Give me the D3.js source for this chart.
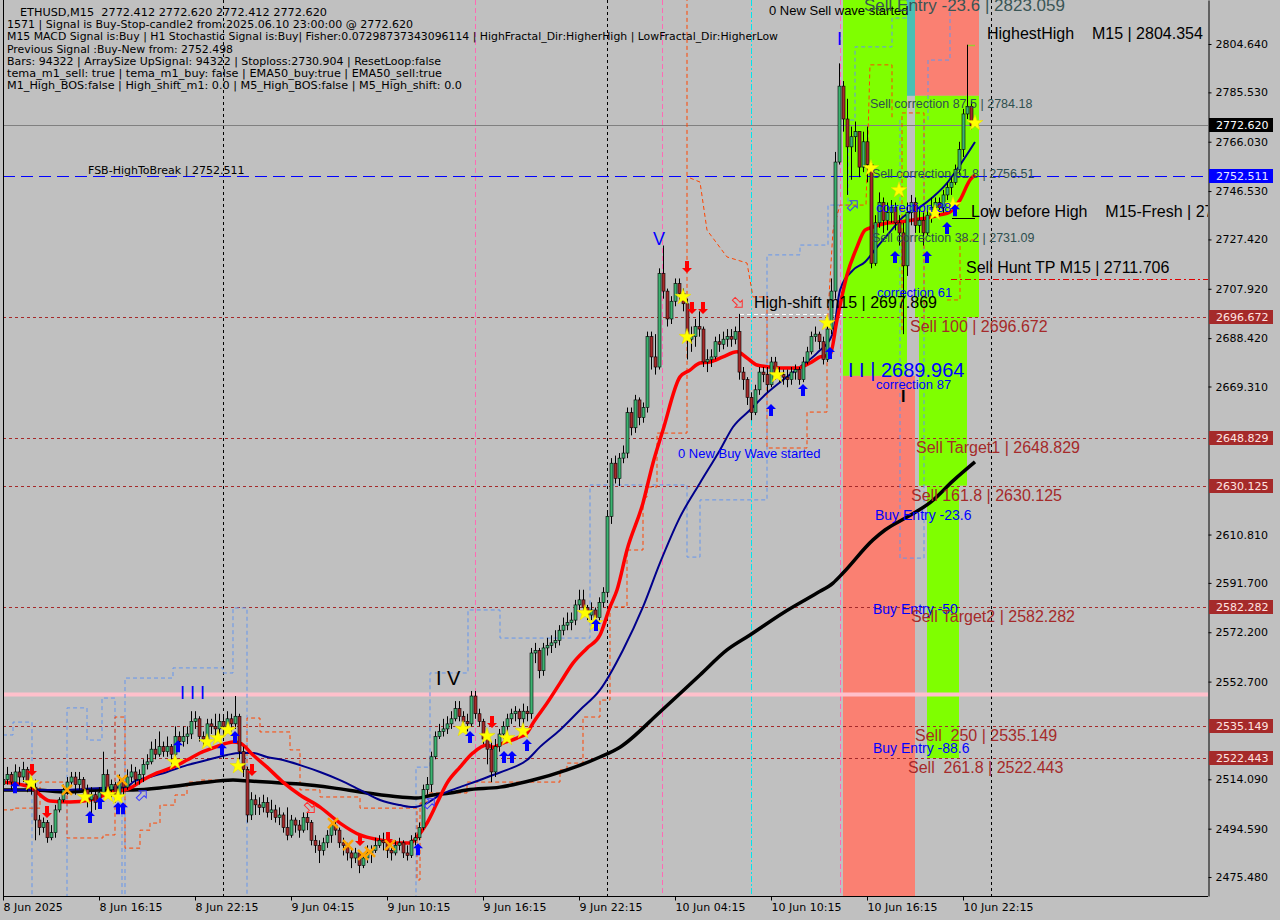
<!DOCTYPE html>
<html><head><meta charset="utf-8">
<script src="https://cdn.jsdelivr.net/npm/d3@7"></script>
<style>body{margin:0;background:#c0c0c0}svg{display:block}text{white-space:pre}</style>
</head><body>
<svg id="c" width="1280" height="920"></svg>
<script>
// ---------------- DATA ----------------
const firstOpen = 2512;
const closes = [2514,2516,2513,2517,2515,2518,2512,2511,2498,2495,2497,2491,2493,2502,2506,2510,2513,2515,2512,2514,
2510,2506,2508,2505,2509,2516,2510,2512,2508,2513,2511,2515,2517,2514,2516,2520,2521,2526,2524,2527,
2525,2527,2524,2531,2529,2531,2532,2537,2538,2531,2530,2536,2535,2534,2537,2535,2538,2536,2539,2525,
2518,2500,2506,2504,2503,2505,2501,2502,2499,2500,2495,2492,2498,2496,2494,2499,2497,2490,2488,2486,
2489,2492,2496,2494,2489,2488,2485,2483,2485,2480,2483,2485,2486,2488,2490,2489,2486,2485,2488,2489,
2485,2484,2490,2491,2495,2510,2512,2523,2531,2533,2534,2536,2538,2542,2539,2537,2536,2547,2540,2537,
2530,2526,2517,2527,2532,2535,2538,2540,2541,2538,2541,2540,2564,2565,2557,2566,2567,2568,2569,2573,
2575,2576,2577,2583,2585,2582,2579,2581,2578,2584,2588,2618,2639,2633,2641,2643,2659,2653,2664,2657,
2661,2689,2681,2677,2714,2707,2696,2703,2710,2706,2702,2688,2689,2693,2692,2679,2680,2681,2687,2686,
2688,2689,2688,2691,2675,2672,2665,2659,2668,2675,2674,2670,2679,2674,2674,2673,2672,2675,2676,2672,
2679,2683,2689,2690,2687,2680,2692,2707,2758,2788,2775,2764,2768,2770,2756,2766,2757,2718,2734,2742,
2735,2738,2740,2734,2730,2717,2738,2742,2733,2735,2730,2737,2740,2742,2740,2745,2748,2750,2755,2763,
2777,2780,2772.412,2772.62];
const highs = [2518,2519,2517,2520,2519,2521,2519,2515,2514,2500,2499,2498,2496,2504,2507,2512,2515,2517,2517,2517,
2515,2512,2511,2510,2511,2525,2518,2514,2513,2516,2515,2518,2520,2519,2518,2522,2524,2529,2530,2533,
2529,2531,2528,2535,2533,2535,2535,2541,2541,2539,2533,2538,2538,2540,2540,2539,2541,2540,2547,2540,
2527,2519,2509,2508,2507,2508,2507,2506,2504,2503,2501,2503,2500,2499,2498,2501,2501,2498,2492,2490,
2491,2494,2498,2498,2495,2491,2489,2487,2487,2486,2485,2488,2488,2491,2492,2493,2492,2488,2490,2491,
2490,2488,2492,2493,2497,2512,2515,2525,2533,2536,2538,2539,2541,2545,2545,2541,2540,2549,2549,2542,
2538,2532,2529,2530,2534,2537,2540,2542,2543,2542,2544,2543,2566,2568,2566,2568,2570,2571,2573,2575,
2578,2580,2580,2585,2589,2589,2583,2584,2582,2586,2590,2620,2641,2642,2643,2646,2661,2661,2666,2665,
2663,2691,2691,2690,2716,2725,2708,2705,2712,2712,2708,2704,2693,2696,2699,2693,2684,2684,2689,2690,
2691,2692,2692,2693,2698,2677,2673,2667,2670,2677,2677,2677,2681,2681,2677,2676,2676,2677,2678,2677,
2681,2685,2691,2693,2691,2689,2694,2712,2762,2797,2790,2783,2772,2774,2770,2770,2772,2758,2737,2746,
2744,2742,2743,2742,2737,2734,2742,2745,2744,2740,2738,2739,2744,2744,2744,2747,2750,2752,2757,2766,
2779,2804.354,2782,2772.62];
const lows = [2510,2512,2510,2512,2512,2513,2509,2508,2490,2492,2493,2489,2490,2491,2501,2505,2508,2511,2508,2510,
2507,2503,2500,2502,2504,2508,2508,2507,2505,2506,2508,2510,2513,2512,2512,2513,2518,2520,2522,2523,
2523,2523,2520,2522,2526,2527,2528,2530,2534,2529,2527,2529,2532,2531,2532,2531,2533,2533,2534,2522,
2515,2497,2498,2500,2500,2501,2499,2498,2497,2496,2493,2490,2491,2493,2491,2493,2494,2488,2485,2481,
2484,2487,2489,2492,2487,2484,2482,2479,2481,2477,2479,2481,2481,2485,2487,2486,2483,2482,2484,2486,
2483,2482,2483,2488,2490,2494,2508,2509,2522,2530,2531,2532,2534,2537,2537,2534,2533,2535,2538,2535,
2528,2520,2513,2515,2525,2530,2533,2536,2537,2535,2536,2537,2538,2560,2554,2555,2563,2564,2566,2567,
2571,2573,2573,2575,2581,2580,2577,2577,2575,2576,2582,2586,2615,2631,2630,2639,2641,2650,2651,2654,
2655,2659,2676,2674,2676,2704,2693,2694,2701,2703,2699,2680,2683,2685,2689,2677,2675,2677,2680,2683,
2684,2685,2685,2686,2672,2668,2662,2656,2658,2666,2671,2667,2669,2672,2671,2670,2669,2670,2672,2670,
2671,2678,2682,2687,2684,2678,2679,2690,2704,2757,2770,2745,2751,2762,2752,2754,2750,2716,2717,2732,
2730,2731,2734,2731,2725,2690,2713,2733,2730,2730,2725,2729,2734,2737,2737,2738,2743,2745,2749,2753,
2760,2775,2771,2772.412];

// moving averages [barIndex, price]
const emaFast = [[0,2513.0],[6.75,2511.0],[11.75,2505.5],[16.75,2505.1],[21.75,2505.9],[26.75,2508.7],[31.75,2510.6],[35,2513.8],[38.5,2516.6],[42.5,2518.9],[46,2521.7],[49.25,2524.5],[52.5,2526.5],[56,2528.4],[57.5,2528.8],[59.25,2528.4],[62.5,2523.7],[66,2518.9],[70,2513.0],[74.25,2507.9],[79.25,2503.1],[84.25,2496.8],[89.25,2492.1],[94.25,2490.1],[99.25,2488.9],[101.75,2488.9],[103.5,2491.3],[106,2496.8],[108.5,2504.7],[111,2512.6],[114.25,2518.9],[117.5,2524.5],[121,2527.6],[122.5,2526.8],[125,2528.4],[128.5,2530.4],[131,2532.4],[132.5,2536.3],[136,2544.2],[139.25,2552.1],[142.5,2560.0],[146,2565.9],[149.25,2571.1],[151.75,2582.2],[153.5,2588.9],[156,2604.7],[160,2623.3],[162.5,2639.1],[165,2652.1],[169.25,2673.1],[171.75,2675.8],[174.25,2678.6],[176.75,2679.0],[180,2681.0],[183.5,2683.0],[186,2680.6],[188.5,2677.8],[191.75,2677.0],[195,2676.6],[198.5,2676.6],[201.75,2678.6],[204.25,2681.0],[206.75,2681.8],[208.5,2695.6],[211,2713.4],[213.5,2724.4],[215.5,2731.1],[217.5,2732.3],[221,2733.9],[224.25,2734.3],[227.5,2735.1],[231,2735.9],[234.25,2737.1],[236.75,2738.3],[239.25,2743.0],[241.75,2750.9],[243,2752.9]];
const emaMid = [[0,2509.9],[16,2509.9],[24.25,2510.7],[31,2511.0],[32.5,2513.0],[36.75,2515.0],[41,2517.0],[46,2519.7],[51,2521.7],[56,2523.7],[59.25,2524.5],[62.5,2524.5],[66,2522.9],[70,2521.7],[74.25,2519.7],[79.25,2517.0],[84.25,2513.8],[89.25,2509.9],[94.25,2505.9],[99.25,2503.9],[102.5,2503.1],[106,2504.7],[109.25,2507.9],[114.25,2511.0],[119.25,2513.8],[122.5,2515.8],[126,2517.8],[131,2521.7],[134.25,2526.9],[139.25,2533.6],[144.25,2541.5],[149.25,2549.4],[155,2565.2],[160,2582.2],[164.25,2599.6],[169.25,2617.7],[174.25,2631.2],[179.25,2644.2],[182.5,2653.3],[186.75,2660.0],[191,2666.7],[195,2671.9],[199.25,2677.0],[203.5,2682.5],[207.5,2690.4],[209.25,2707.4],[212.5,2715.3],[215.5,2718.5],[218.5,2724.4],[221.75,2730.4],[225,2736.3],[229.25,2740.2],[232.5,2744.2],[236,2749.7],[239.25,2756.8],[243,2765.9]];
const emaSlow = [[0,2509.9],[7.5,2509.9],[16,2509.1],[24.25,2509.9],[32.5,2509.9],[41,2511.0],[49.25,2512.6],[57.5,2513.8],[61.75,2513.4],[66,2513.0],[74.25,2512.2],[82.5,2510.7],[91,2508.7],[99.25,2507.1],[103.5,2506.7],[107.5,2507.9],[111.75,2508.7],[116,2509.9],[124.25,2511.0],[132.5,2513.8],[141,2517.8],[149.25,2522.9],[154.25,2526.8],[164.25,2540.7],[174.25,2555.3],[181,2565.2],[186.75,2571.1],[195,2579.8],[203.5,2587.7],[207.5,2591.6],[210,2595.6],[217.5,2608.7],[220.5,2612.6],[226,2617.7],[232,2623.7],[237.5,2632.0],[243,2639.5]];

// channel step lines [barIndex, price]
const bandBlue = [[0,2531.6],[2.5,2531.6],[2.5,2536.7],[7.25,2536.7],[7.25,2466],[16,2466],[16,2542.3],[21,2542.3],[21,2529.6],[24.75,2529.6],[24.75,2546.2],[28,2546.2],[28,2504.7],[29.75,2504.7],[29.75,2466],[30.5,2466],[30.5,2554.1],[42.5,2554.1],[42.5,2558.1],[55,2558.1],[55,2556.1],[57.5,2556.1],[57.5,2581.8],[61,2581.8],[61,2466],[103.25,2466],[103.25,2518.9],[106.75,2518.9],[106.75,2556.1],[116.25,2556.1],[116.25,2581.0],[124.25,2581.0],[124.25,2569.9],[146.75,2569.9],[146.75,2630.4],[171,2630.4],[171,2601.9],[174.25,2601.9],[174.25,2624.5],[191,2624.5],[191,2721.3],[199.25,2721.3],[199.25,2725.2],[206.25,2725.2],[206.25,2741.0],[211.25,2741.0],[211.25,2774.6],[213,2774.6],[213,2803.5],[222.25,2803.5],[222.25,2814.9],[226,2814.9],[226,2825]];
const bandBlue2 = [[224.25,2774.6],[224.25,2601.5],[230.25,2601.5],[230.25,2774.6]];
const bandBlue3 = [[231.25,2774.6],[231.25,2798.3],[236.75,2798.3],[236.75,2825]];
const bandRed = [[0,2502.0],[2.5,2502.0],[2.5,2502.7],[9.25,2502.7],[9.25,2513.0],[16,2513.0],[16,2490.9],[25,2490.9],[25,2492.1],[28,2492.1],[28,2538.7],[30.5,2538.7],[30.5,2486.9],[34.25,2486.9],[34.25,2494.0],[36.75,2494.0],[36.75,2496.8],[39.25,2496.8],[39.25,2503.9],[43,2503.9],[43,2507.9],[46,2507.9],[46,2513.0],[49.25,2513.0],[49.25,2513.8],[61,2513.8],[61,2538.3],[64.25,2538.3],[64.25,2532.8],[71.75,2532.8],[71.75,2525.7],[74.25,2525.7],[74.25,2509.9],[79.25,2509.9],[79.25,2507.1],[89.25,2507.1],[89.25,2502.7],[103.5,2502.7],[103.5,2474.3],[104.25,2474.3],[104.25,2504.7],[106,2504.7],[106,2508.7],[116,2508.7],[116,2513.0],[139.25,2513.0],[139.25,2517.8],[141,2517.8],[141,2520.5],[145,2520.5],[145,2538.7],[149.25,2538.7],[149.25,2545.4],[151.75,2545.4],[151.75,2582.2],[156,2582.2],[156,2604.7],[160,2604.7],[160,2625.6],[161,2625.6],[161,2629.6],[163.5,2629.6],[163.5,2650.9],[171,2650.9],[171,2825]];
const bandRed2 = [[171.75,2751.7],[174.25,2750.1],[176,2731.1],[181,2720.5],[186,2718.1],[187.5,2704.7],[191,2704.7],[191,2645.0],[201,2645.0],[201,2659.2],[206,2659.2],[206,2691.6],[207.5,2731.1],[209.25,2741.0],[215.75,2741.0],[216.75,2796.4],[222.25,2796.4],[222.25,2774.6]];
const bandRed3 = [[224.75,2691.6],[224.75,2777.4],[230.25,2777.4],[230.25,2691.6]];
const bandRed4 = [[236,2703.5],[239.25,2703.5],[239.25,2727.2],[243,2727.2]];

// zones
const zoneX0 = [210,226,228,228,210,229,231];
const zoneX1 = [226,228,244,244,228,241,239];
const zoneTop = [2825,2825,2825,2784.18,2673.5,2696.672,2630.125];
const zoneBot = [2673.5,2784.18,2784.18,2696.672,2460,2630.125,2522.443];
const zoneKind = ["g","t","s","g","s","g","g"];

// levels
const levelsBrown = [2696.672,2648.829,2630.125,2582.282,2535.149,2522.443];
const levelBlue = 2752.511, levelBid = 2772.620, levelPink = 2547.8;
const highShift = 2697.869, huntTP = 2711.706, lowBeforeHigh = 2735.9, highestHigh = 2804.354;

// vertical markers (bar index)
const daySeps = [55,151,247];
const pinkV = [118,164.75,209.25];
const cyanV = [187];

// markers
const starIdx = [7,20.5,26.25,28.75,43,51,53.75,56.25,58.75,115,121,126,130,145.5,148,170,171,193.5,206,217,224,233,237.5,243];
const starPrice = [2512.6,2507.1,2507.9,2507.1,2520.9,2528.8,2530.4,2533.6,2519.3,2534.0,2531.2,2530.4,2533.2,2579.8,2575.8,2704.7,2688.9,2673.8,2694.4,2755.6,2746.9,2737.9,2741.0,2773.4];
const upIdx = [3,21.75,24.25,28.75,30,43.75,54.75,58,103.75,116.75,125.25,127.25,131,148.25,192,200,206.75,223,231,236,238];
const upPrice = [2511.0,2499.2,2504.7,2502.7,2502.7,2527.2,2526.0,2530.8,2486.5,2530.8,2522.9,2522.9,2527.6,2575.1,2660.0,2667.9,2682.5,2720.5,2720.5,2731.9,2739.0];
const downIdx = [7.25,11,62.25,89.25,96.25,122.25,171,172.25,175];
const downPrice = [2517.8,2501.2,2517.8,2490.1,2490.9,2536.7,2716.5,2700.3,2700.3];
const crossIdx = [16,29.75,82.5,86.25,90,91.75,96.75];
const crossPrice = [2509.9,2513.8,2496.8,2488.1,2484.2,2485.4,2488.1];
const hollowUpIdx = [34.75,106.75,212.5];
const hollowUpPrice = [2507.9,2504.7,2741.0];
const hollowDownIdx = [76.75,183.75];
const hollowDownPrice = [2502.7,2702.3];

// axes
const priceTicks = [2804.64,2785.53,2766.03,2746.53,2727.42,2707.92,2688.42,2669.31,2610.81,2591.70,2572.20,2552.70,2514.09,2494.59,2475.48];
const timeTickIdx = [0,24,48,72,96,120,144,168,192,216,240];
const timeLabels = ["8 Jun 2025","8 Jun 16:15","8 Jun 22:15","9 Jun 04:15","9 Jun 10:15","9 Jun 16:15","9 Jun 22:15","10 Jun 04:15","10 Jun 10:15","10 Jun 16:15","10 Jun 22:15"];
const priceTags = [2772.620,2752.511,2696.672,2648.829,2630.125,2582.282,2535.149,2522.443];
const priceTagKind = ["bid","blue","br","br","br","br","br","br"];

const infoLines = ["ETHUSD,M15  2772.412 2772.620 2772.412 2772.620",
"1571 | Signal is Buy-Stop-candle2 from:2025.06.10 23:00:00 @ 2772.620",
"M15 MACD Signal is:Buy | H1 Stochastic Signal is:Buy| Fisher:0.07298737343096114 | HighFractal_Dir:HigherHigh | LowFractal_Dir:HigherLow",
"Previous Signal :Buy-New from: 2752.498",
"Bars: 94322 | ArraySize UpSignal: 94322 | Stoploss:2730.904 | ResetLoop:false",
"tema_m1_sell: true | tema_m1_buy: false | EMA50_buy:true | EMA50_sell:true",
"M1_High_BOS:false | High_shift_m1: 0.0 | M5_High_BOS:false | M5_High_shift: 0.0"];

// ---------------- LAYOUT ----------------
const L=3,R=1208,T=0,B=896;
const svg = d3.select("#c");
const x = d3.scaleLinear().domain([0,301.25]).range([L,R]);
const y = d3.scaleLinear().domain([2467.98,2822.03]).range([B,T]);
const AR = "Liberation Sans, Arial, sans-serif";
const TH = "DejaVu Sans, Verdana, sans-serif";

svg.append("rect").attr("width",1280).attr("height",920).attr("fill","#c0c0c0");
svg.append("defs").append("clipPath").attr("id","plot").append("rect")
  .attr("x",L).attr("y",T).attr("width",R-L).attr("height",B-T);
const g = svg.append("g").attr("clip-path","url(#plot)");

// zones
const zc = {g:"#7fff00",t:"#48c0b4",s:"#fa8072"};
g.selectAll("rect.zone").data(zoneX0).join("rect").attr("class","zone")
  .attr("x",(d,k)=>x(d)).attr("width",(d,k)=>x(zoneX1[k])-x(d))
  .attr("y",(d,k)=>y(zoneTop[k])).attr("height",(d,k)=>y(zoneBot[k])-y(zoneTop[k]))
  .attr("fill",(d,k)=>zc[zoneKind[k]]);

// vertical lines
const vline=(arr,color,dash,w)=>g.append("g").selectAll("line").data(arr).join("line")
  .attr("x1",d=>Math.round(x(d))+0.5).attr("x2",d=>Math.round(x(d))+0.5).attr("y1",T).attr("y2",B)
  .attr("stroke",color).attr("stroke-width",w||1).attr("stroke-dasharray",dash);
vline(daySeps,"#000","3,3");
vline(pinkV,"#ff69b4","5,3");
vline(cyanV,"#00e5ee","6,2,2,2");

// horizontal levels
const hline=(p,color,dash,w,i0,i1)=>g.append("line")
  .attr("x1",i0==null?L:x(i0)).attr("x2",i1==null?R:x(i1))
  .attr("y1",Math.round(y(p))+0.5).attr("y2",Math.round(y(p))+0.5)
  .attr("stroke",color).attr("stroke-width",w).attr("stroke-dasharray",dash);
levelsBrown.forEach(p=>hline(p,"#a52a2a","3,3",1));
hline(levelPink,"#ffc0cb",null,4);
hline(levelBid,"#808080",null,1);
hline(levelBlue,"#0000ff","12,6",1.2);
hline(highShift,"#ffffff","4,3",1,184.25,210);
hline(huntTP,"#e00000","6,3,2,3",1,237,null);
hline(lowBeforeHigh,"#000000",null,1,237.25,243);
hline(highestHigh,"#9acd32",null,1.5,241.25,243);

// channel lines
const ln = d3.line().x(d=>x(d[0])).y(d=>y(d[1]));
[bandBlue,bandBlue2,bandBlue3].forEach(a=>g.append("path").attr("d",ln(a)).attr("fill","none")
  .attr("stroke","#6495ed").attr("stroke-width",1).attr("stroke-dasharray","4,3"));
[bandRed,bandRed2,bandRed3,bandRed4].forEach(a=>g.append("path").attr("d",ln(a)).attr("fill","none")
  .attr("stroke","#ff4500").attr("stroke-width",1).attr("stroke-dasharray","4,3"));

// moving averages
const lc = d3.line().x(d=>x(d[0])).y(d=>y(d[1])).curve(d3.curveMonotoneX);
g.append("path").attr("d",lc(emaSlow)).attr("fill","none").attr("stroke","#000").attr("stroke-width",3.5);
g.append("path").attr("d",lc(emaMid)).attr("fill","none").attr("stroke","#00008b").attr("stroke-width",2);
g.append("path").attr("d",lc(emaFast)).attr("fill","none").attr("stroke","#ff0000").attr("stroke-width",3.5);

// candles
const opens = closes.map((c,k)=>k===0?firstOpen:closes[k-1]);
const cg = g.append("g");
closes.forEach((c,k)=>{
  const o=opens[k], cx=Math.round(x(k));
  const hi=Math.max(highs[k],o,c), lo=Math.min(lows[k],o,c);
  cg.append("line").attr("x1",cx+0.5).attr("x2",cx+0.5).attr("y1",y(hi)).attr("y2",y(lo))
    .attr("stroke","#000").attr("stroke-width",1);
  const yt=y(Math.max(o,c)), yb=y(Math.min(o,c));
  cg.append("rect").attr("x",cx-1).attr("width",3).attr("y",yt).attr("height",Math.max(1,yb-yt))
    .attr("fill",c>=o?"#3cb371":"#a52a2a").attr("stroke","#000").attr("stroke-width",0.6);
});

// markers
const star=d3.symbol(d3.symbolStar).size(80)();
g.append("g").selectAll("path").data(starIdx).join("path").attr("d",star)
  .attr("transform",(d,k)=>`translate(${x(d)},${y(starPrice[k])})`).attr("fill","#ffff00").attr("stroke","#e6d800").attr("stroke-width",0.5);
const upArrow="M0,-6L5,-1L2,-1L2,6L-2,6L-2,-1L-5,-1Z";
g.append("g").selectAll("path").data(upIdx).join("path").attr("d",upArrow)
  .attr("transform",(d,k)=>`translate(${x(d)},${y(upPrice[k])})`).attr("fill","#0000ff");
g.append("g").selectAll("path").data(downIdx).join("path").attr("d",upArrow)
  .attr("transform",(d,k)=>`translate(${x(d)},${y(downPrice[k])}) rotate(180)`).attr("fill","#ff0000");
g.append("g").selectAll("path").data(crossIdx).join("path").attr("d","M-5,-5L5,5M5,-5L-5,5")
  .attr("transform",(d,k)=>`translate(${x(d)},${y(crossPrice[k])})`).attr("stroke","#ffa500").attr("stroke-width",2.5);
g.append("g").selectAll("path").data(hollowUpIdx).join("path").attr("d",upArrow)
  .attr("transform",(d,k)=>`translate(${x(d)},${y(hollowUpPrice[k])}) rotate(45)`).attr("fill","none").attr("stroke","#3b3bff").attr("stroke-width",1);
g.append("g").selectAll("path").data(hollowDownIdx).join("path").attr("d",upArrow)
  .attr("transform",(d,k)=>`translate(${x(d)},${y(hollowDownPrice[k])}) rotate(135)`).attr("fill","none").attr("stroke","#ff3030").attr("stroke-width",1);

// annotation texts (layout)
const notes = [
 ["FSB-HighToBreak | 2752.511",88,174,11,"#000",TH,"normal"],
 ["0 New Sell wave started",769,15,13,"#000",AR,"normal"],
 ["Sell Entry -23.6 | 2823.059",864,11,17,"#3a5555",AR,"normal"],
 ["HighestHigh    M15 | 2804.354",987,39,16,"#000",AR,"normal"],
 ["Sell correction 87.5 | 2784.18",870,108,12.5,"#2f4f4f",AR,"normal"],
 ["Sell correction 61.8 | 2756.51",872,178,12.5,"#2f4f4f",AR,"normal"],
 ["correction 38",876,212,13,"#0000ff",AR,"normal"],
 ["Low before High    M15-Fresh | 2735.915",971,217,16,"#000",AR,"normal"],
 ["Sell correction 38.2 | 2731.09",872,242,12.5,"#2f4f4f",AR,"normal"],
 ["Sell Hunt TP M15 | 2711.706",966,273,16,"#000",AR,"normal"],
 ["correction 61",877,297,13,"#0000ff",AR,"normal"],
 ["High-shift m15 | 2697.869",754,308,16,"#000",AR,"normal"],
 ["Sell 100 | 2696.672",910,332,16,"#a52a2a",AR,"normal"],
 ["I I | 2689.964",848,377,20,"#0000ff",AR,"normal"],
 ["correction 87",876,389,13,"#0000ff",AR,"normal"],
 ["I",901,402,16,"#000",AR,"bold"],
 ["Sell Target1 | 2648.829",916,453,16,"#a52a2a",AR,"normal"],
 ["0 New Buy Wave started",678,458,13,"#0000ff",AR,"normal"],
 ["Sell 161.8 | 2630.125",911,501,16,"#a52a2a",AR,"normal"],
 ["Buy Entry -23.6",875,520,14,"#0000ff",AR,"normal"],
 ["Buy Entry -50",873,614,14,"#0000ff",AR,"normal"],
 ["Sell Target2 | 2582.282",911,622,16,"#a52a2a",AR,"normal"],
 ["Sell  250 | 2535.149",915,741,16,"#a52a2a",AR,"normal"],
 ["Buy Entry -88.6",873,753,14,"#0000ff",AR,"normal"],
 ["Sell  261.8 | 2522.443",908,773,16,"#a52a2a",AR,"normal"],
 ["V",653,245,18,"#0000ff",AR,"normal"],
 ["I V",436,685,20,"#000",AR,"normal"],
 ["I I I",180,699,18,"#0000ff",AR,"normal"],
 ["I",837,45,18,"#0000ff",AR,"normal"]
];
g.append("g").selectAll("text").data(notes).join("text")
  .attr("x",d=>d[1]).attr("y",d=>d[2]).attr("font-size",d=>d[3]).attr("fill",d=>d[4])
  .attr("font-family",d=>d[5]).attr("font-weight",d=>d[6]).text(d=>d[0]);

// info block
const infoX=[20,7,7,7,7,7,7], infoEnd=[327,413,778,233,441,442,462];
svg.append("g").selectAll("text").data(infoLines).join("text")
  .attr("x",(d,k)=>infoX[k]).attr("y",(d,k)=>16+k*12.2)
  .attr("font-family",TH).attr("font-size",11).attr("fill","#000")
  .attr("textLength",(d,k)=>infoEnd[k]-infoX[k]).attr("lengthAdjust","spacingAndGlyphs").text(d=>d);

// frame
svg.append("line").attr("x1",L+0.5).attr("x2",L+0.5).attr("y1",0).attr("y2",B).attr("stroke","#000");

// axes
const ya = svg.append("g").attr("transform",`translate(${R+0.5},0)`)
  .call(d3.axisRight(y).tickValues(priceTicks).tickFormat(d3.format(".3f")).tickSize(3).tickSizeOuter(0).tickPadding(4));
ya.select(".domain").attr("stroke","#000");
ya.selectAll("text").attr("font-family",TH).attr("font-size",11).attr("fill","#000");
const xa = svg.append("g").attr("transform",`translate(0,${B+0.5})`)
  .call(d3.axisBottom(x).tickValues(timeTickIdx).tickFormat((d,k)=>timeLabels[k]).tickSize(4).tickSizeOuter(0).tickPadding(3));
xa.select(".domain").attr("stroke","#000").attr("d",`M${L},0H${R}`);
xa.selectAll("text").attr("font-family",TH).attr("font-size",11).attr("fill","#000").attr("text-anchor","start");

// price tags
const tagBg={bid:"#000",blue:"#0000ff",br:"#a52a2a"}, tagFg={bid:"#fff",blue:"#e8e8ff",br:"#ffe4e1"};
const tg = svg.append("g");
priceTags.forEach((p,k)=>{
  const yy=Math.round(y(p));
  tg.append("rect").attr("x",R+1).attr("y",yy-7).attr("width",64).attr("height",14).attr("fill",tagBg[priceTagKind[k]]);
  tg.append("text").attr("x",R+8).attr("y",yy+4).attr("font-family",TH).attr("font-size",11)
    .attr("fill",tagFg[priceTagKind[k]]).text(d3.format(".3f")(p));
});
</script>
</body></html>
